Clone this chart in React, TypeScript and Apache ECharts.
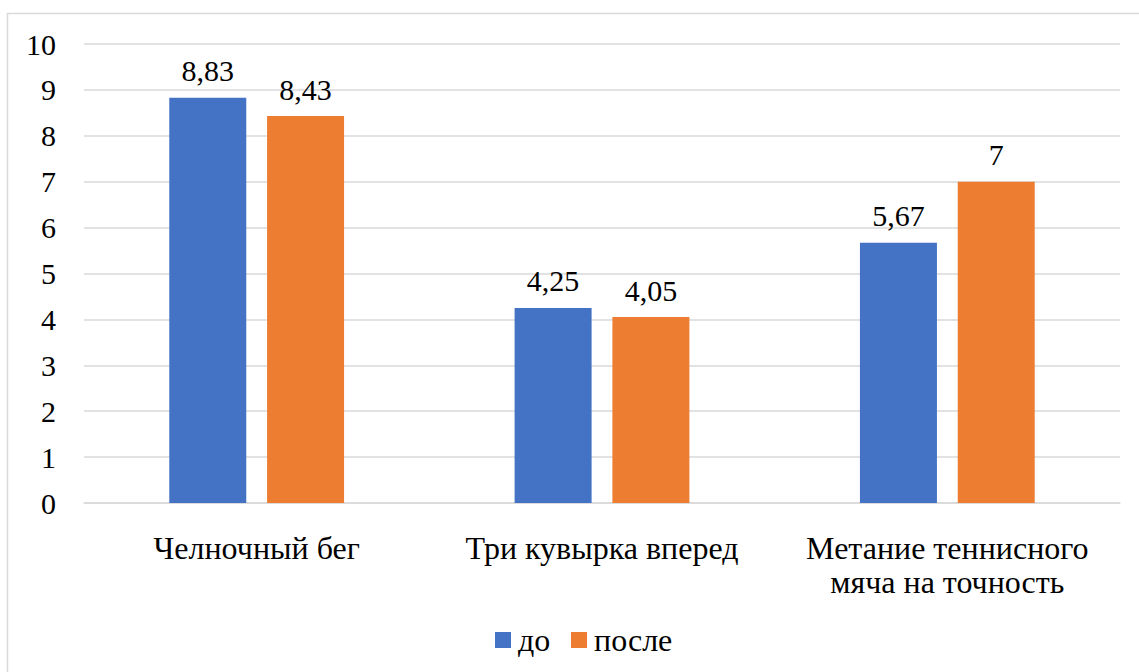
import React, { useEffect, useRef } from "react";
import * as echarts from "echarts";

const categories = ["Челночный бег", "Три кувырка вперед", "Метание теннисного\nмяча на точность"];
const before = [8.83, 4.25, 5.67];
const after = [8.43, 4.05, 7];
const seriesNames = ["до", "после"];
const seriesColors = ["#4472C4", "#ED7D31"];
const yTicks = { min: 0, max: 10, interval: 1 };

const FONT = "Liberation Serif";

export default function App() {
  const ref = useRef<HTMLDivElement>(null);
  useEffect(() => {
    if (!ref.current) return;
    const chart = echarts.init(ref.current, null, { renderer: "svg" });
    const fmt = (p: any) => String(p.value).replace(".", ",");
    const labelCfg = {
      show: true,
      position: "top" as const,
      distance: 12,
      formatter: fmt,
      fontFamily: FONT,
      fontSize: 30,
      color: "#000",
    };
    const legendX = [495, 571];
    const legendGraphic: any[] = [];
    seriesNames.forEach((name, i) => {
      legendGraphic.push({
        type: "rect",
        shape: { x: legendX[i], y: 632, width: 16, height: 16 },
        style: { fill: seriesColors[i] },
        silent: true,
      });
      legendGraphic.push({
        type: "text",
        x: legendX[i] + 23,
        y: 640,
        style: {
          text: name,
          fontFamily: FONT,
          fontSize: 32,
          fill: "#000",
          verticalAlign: "middle",
        },
        silent: true,
      });
    });
    chart.setOption({
      animation: false,
      backgroundColor: "#fff",
      graphic: [
        {
          type: "rect",
          shape: { x: 7.5, y: 13.5, width: 1160, height: 700 },
          style: { fill: "none", stroke: "#D9D9D9", lineWidth: 1.5 },
          silent: true,
        },
        ...legendGraphic,
      ],
      grid: { left: 84, right: 19, top: 44, bottom: 169 },
      xAxis: {
        type: "category",
        data: categories,
        axisTick: { show: false },
        axisLine: { lineStyle: { color: "#D9D9D9", width: 1.5 } },
        axisLabel: {
          interval: 0,
          fontFamily: FONT,
          fontSize: 32,
          color: "#000",
          margin: 28,
          lineHeight: 34,
        },
      },
      yAxis: {
        type: "value",
        min: yTicks.min,
        max: yTicks.max,
        interval: yTicks.interval,
        axisLine: { show: false },
        axisTick: { show: false },
        splitLine: { lineStyle: { color: "#D9D9D9", width: 1.5 } },
        axisLabel: { fontFamily: FONT, fontSize: 30, color: "#000", margin: 28 },
      },
      series: [
        {
          name: seriesNames[0],
          type: "bar",
          data: before,
          barWidth: 77,
          barGap: "27%",
          itemStyle: { color: seriesColors[0] },
          label: labelCfg,
        },
        {
          name: seriesNames[1],
          type: "bar",
          data: after,
          barWidth: 77,
          barGap: "27%",
          itemStyle: { color: seriesColors[1] },
          label: labelCfg,
        },
      ],
    });
    return () => chart.dispose();
  }, []);
  return (
    <div
      ref={ref}
      style={{ position: "fixed", left: 0, top: 0, width: 1139, height: 672 }}
    />
  );
}
